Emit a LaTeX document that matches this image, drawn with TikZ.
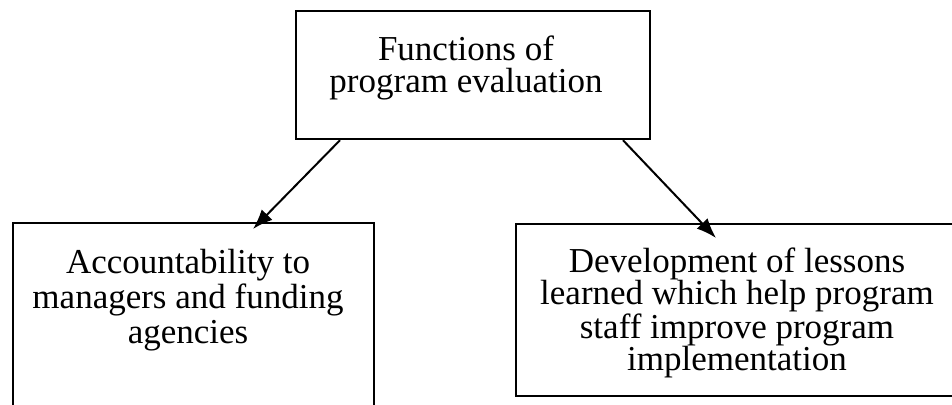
\documentclass[tikz,border=0pt]{standalone}
\usepackage{fontspec}
\setmainfont{Liberation Serif}
\usetikzlibrary{arrows.meta}
\begin{document}
\begin{tikzpicture}[x=1pt,y=-1pt,
  boxstyle/.style={draw=black,line width=2.2pt,minimum width=0pt,inner sep=0pt},
  txt/.style={inner sep=0pt,align=center,text=black},
  conn/.style={draw=black,line width=2pt,-{Latex[length=20pt,width=15pt]}}]
\useasboundingbox (0,0) rectangle (952,404);
\begin{scope}
\clip (0,0) rectangle (952,404);
\node[boxstyle,minimum width=354pt,minimum height=128pt,anchor=north west] (top) at (295,10) {};
\node[boxstyle,minimum width=361pt,minimum height=220pt,anchor=north west] (left) at (12,222) {};
\node[boxstyle,minimum width=460pt,minimum height=172pt,anchor=north west] (right) at (515,223) {};
\end{scope}
\node[txt,anchor=north,font=\fontsize{35}{32}\selectfont] (toptxt) at (466,36) {Functions of\\program evaluation};
\node[txt,anchor=north,font=\fontsize{35}{35}\selectfont] (lefttxt) at (188,249) {Accountability to\\managers and funding\\agencies};
\node[txt,anchor=north,font=\fontsize{35}{32}\selectfont] (righttxt) at (737,248) {Development of lessons\\learned which help program\\staff improve program\\implementation};
\coordinate (s1) at (top.south west -| 340,0);
\coordinate (s2) at (top.south west -| 623,0);
\coordinate (e1) at (253,229);
\coordinate (e2) at (716,238);
\draw[conn] (s1) -- (e1);
\draw[conn] (s2) -- (e2);
\end{tikzpicture}
\end{document}
